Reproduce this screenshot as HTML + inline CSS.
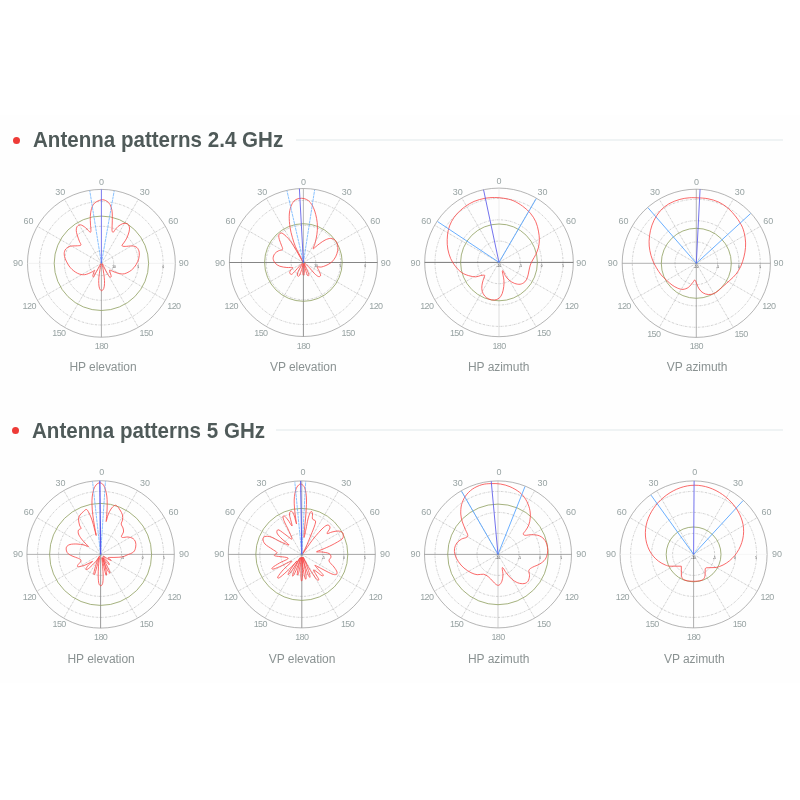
<!DOCTYPE html>
<html lang="en"><head><meta charset="utf-8"><title>Antenna patterns</title>
<style>
html,body{margin:0;padding:0;background:#fff;}
body{width:800px;height:800px;position:relative;overflow:hidden;font-family:"Liberation Sans",sans-serif;}
.sheet{position:absolute;left:0;top:115px;width:800px;height:568px;background:#fefefe;}
h2{position:absolute;margin:0;left:33px;font-size:21.6px;line-height:26px;font-weight:bold;color:#4f5a59;white-space:nowrap;transform-origin:0 50%;transform:scaleX(0.952);letter-spacing:0;}
.dot{position:absolute;width:7px;height:7px;border-radius:50%;background:#ee3b37;}
.rule{position:absolute;height:2.2px;background:#eff3f4;}
.cap{position:absolute;font-size:12px;line-height:14px;color:#8a9292;white-space:nowrap;letter-spacing:-0.05px;}
svg{position:absolute;left:0;top:0;}
.rad{stroke:#8c8c8c;stroke-width:0.4;stroke-dasharray:2 0.7 0.5 0.7;fill:none}
.ring{stroke:#8c8c8c;stroke-width:0.4;stroke-dasharray:2 0.9 0.6 0.9;fill:none}
.outer{stroke:#8c8c8c;stroke-width:0.65;fill:none}
.green{stroke:#8e9e5e;stroke-width:0.8;fill:none}
.red{stroke:#f94444;stroke-width:0.8;fill:none;stroke-linejoin:round}
.bd{stroke:#4aa0ff;stroke-width:0.65;stroke-dasharray:3 0.6;fill:none}
.bs{stroke:#4fa0ff;stroke-width:0.85;fill:none}
.db{stroke:#5858ea;fill:none}
.al{font-family:"Liberation Sans",sans-serif;font-size:9px;fill:#98a3a3;text-anchor:middle}
.a3{letter-spacing:-0.6px}
.tk{font-family:"Liberation Sans",sans-serif;font-size:3px;fill:#333;text-anchor:middle}
</style></head><body>
<div class="sheet"></div>

<div class="dot" style="left:13px;top:136.8px"></div>
<h2 style="top:127.0px">Antenna patterns 2.4 GHz</h2>
<div class="rule" style="left:296px;top:139.3px;width:487px"></div>
<div class="dot" style="left:11.5px;top:427.2px"></div>
<h2 style="top:418.0px;left:32px">Antenna patterns 5 GHz</h2>
<div class="rule" style="left:276px;top:429.2px;width:507px"></div>
<svg width="800" height="800" viewBox="0 0 800 800">
<g>
<line x1="101.40" y1="263.30" x2="138.35" y2="199.30" class="rad"/>
<line x1="101.40" y1="263.30" x2="165.40" y2="226.35" class="rad"/>
<line x1="101.40" y1="263.30" x2="165.40" y2="300.25" class="rad"/>
<line x1="101.40" y1="263.30" x2="138.35" y2="327.30" class="rad"/>
<line x1="101.40" y1="263.30" x2="64.45" y2="327.30" class="rad"/>
<line x1="101.40" y1="263.30" x2="37.40" y2="300.25" class="rad"/>
<line x1="101.40" y1="263.30" x2="37.40" y2="226.35" class="rad"/>
<line x1="101.40" y1="263.30" x2="64.45" y2="199.30" class="rad"/>
<circle cx="101.40" cy="263.30" r="12.30" class="ring"/>
<circle cx="101.40" cy="263.30" r="37.00" class="ring"/>
<circle cx="101.40" cy="263.30" r="61.70" class="ring"/>
<circle cx="101.40" cy="263.30" r="73.90" class="outer"/>
<line x1="27.50" y1="263.30" x2="175.30" y2="263.30" stroke="#e8e8e8" stroke-width="0.6"/>
<line x1="101.40" y1="263.30" x2="101.40" y2="337.20" stroke="#999" stroke-width="0.8"/>
<circle cx="101.40" cy="263.30" r="47.20" class="green"/>
<path d="M101.41 199.84C103.36 199.51 104.97 200.16 106.41 200.94C107.84 201.72 109.09 203.02 110.00 204.53C110.91 206.04 111.48 208.05 111.88 210.00C112.27 211.95 112.29 213.91 112.34 216.25C112.40 218.59 112.24 221.72 112.19 224.06C112.14 226.41 111.88 228.93 112.03 230.31C112.19 231.69 112.58 232.47 113.12 232.34C113.67 232.21 114.48 230.52 115.31 229.53C116.15 228.54 116.88 227.40 118.12 226.41C119.38 225.42 121.30 224.04 122.81 223.59C124.32 223.15 126.09 223.20 127.19 223.75C128.28 224.30 129.06 225.52 129.38 226.88C129.69 228.23 129.51 230.00 129.06 231.88C128.62 233.75 127.50 236.43 126.72 238.12C125.94 239.82 125.16 240.78 124.38 242.03C123.59 243.28 121.90 244.90 122.03 245.62C122.16 246.35 123.46 246.35 125.16 246.41C126.85 246.46 130.23 245.76 132.19 245.94C134.14 246.12 135.70 246.46 136.88 247.50C138.05 248.54 138.91 250.36 139.22 252.19C139.53 254.01 139.27 256.35 138.75 258.44C138.23 260.52 137.32 262.73 136.09 264.69C134.87 266.64 133.36 268.65 131.41 270.16C129.45 271.67 126.59 273.23 124.38 273.75C122.16 274.27 120.08 273.70 118.12 273.28C116.17 272.86 114.09 271.77 112.66 271.25C111.22 270.73 109.87 269.69 109.53 270.16C109.19 270.62 110.34 272.99 110.62 274.06C110.91 275.13 111.41 276.09 111.25 276.56C111.09 277.03 110.36 277.42 109.69 276.88C109.01 276.33 108.07 274.79 107.19 273.28C106.30 271.77 105.21 269.43 104.38 267.81C103.54 266.20 102.40 263.33 102.19 263.59C101.98 263.85 102.79 267.11 103.12 269.38C103.46 271.64 103.98 274.84 104.22 277.19C104.45 279.53 104.61 281.56 104.53 283.44C104.45 285.31 104.24 287.21 103.75 288.44C103.26 289.66 102.27 290.78 101.56 290.78C100.86 290.78 100.00 289.66 99.53 288.44C99.06 287.21 98.85 285.31 98.75 283.44C98.65 281.56 98.70 279.53 98.91 277.19C99.11 274.84 99.66 271.64 100.00 269.38C100.34 267.11 101.25 263.72 100.94 263.59C100.62 263.46 99.11 266.85 98.12 268.59C97.14 270.34 95.73 272.68 95.00 274.06C94.27 275.44 94.11 276.56 93.75 276.88C93.39 277.19 92.81 276.67 92.81 275.94C92.81 275.21 93.44 273.44 93.75 272.50C94.06 271.56 95.05 270.36 94.69 270.31C94.32 270.26 93.26 271.46 91.56 272.19C89.87 272.92 86.88 274.51 84.53 274.69C82.19 274.87 79.84 274.43 77.50 273.28C75.16 272.14 72.42 270.03 70.47 267.81C68.52 265.60 66.82 262.34 65.78 260.00C64.74 257.66 64.22 255.57 64.22 253.75C64.22 251.93 64.74 250.31 65.78 249.06C66.82 247.81 68.52 246.80 70.47 246.25C72.42 245.70 75.76 245.99 77.50 245.78C79.24 245.57 80.62 245.76 80.94 245.00C81.25 244.24 80.00 242.92 79.38 241.25C78.75 239.58 77.71 236.82 77.19 235.00C76.67 233.18 76.25 231.74 76.25 230.31C76.25 228.88 76.46 227.32 77.19 226.41C77.92 225.49 79.27 224.66 80.62 224.84C81.98 225.03 84.01 226.54 85.31 227.50C86.61 228.46 87.60 229.82 88.44 230.62C89.27 231.43 89.90 232.40 90.31 232.34C90.73 232.29 90.91 231.69 90.94 230.31C90.96 228.93 90.57 226.41 90.47 224.06C90.36 221.72 90.13 218.85 90.31 216.25C90.49 213.65 90.83 210.65 91.56 208.44C92.29 206.22 93.05 204.40 94.69 202.97C96.33 201.54 99.45 200.18 101.41 199.84Z" class="red"/>
<line x1="101.40" y1="263.30" x2="89.79" y2="190.82" class="bd"/>
<line x1="101.40" y1="263.30" x2="114.15" y2="191.02" class="bd"/>
<line x1="101.40" y1="263.30" x2="101.40" y2="189.40" class="db" stroke-width="0.8"/>
<text x="113.90" y="267.90" class="tk">10</text>
<text x="138.40" y="267.90" class="tk">5</text>
<text x="163.40" y="267.90" class="tk">0</text>
<text x="101.50" y="184.50" class="al">0</text>
<text x="144.80" y="195.00" class="al">30</text>
<text x="173.30" y="223.90" class="al">60</text>
<text x="183.70" y="266.00" class="al">90</text>
<text x="173.90" y="308.80" class="al a3">120</text>
<text x="146.10" y="336.40" class="al a3">150</text>
<text x="101.40" y="348.80" class="al a3">180</text>
<text x="58.90" y="336.40" class="al a3">150</text>
<text x="29.20" y="308.80" class="al a3">120</text>
<text x="17.90" y="266.00" class="al">90</text>
<text x="28.60" y="223.90" class="al">60</text>
<text x="60.20" y="195.00" class="al">30</text>
</g>
<g>
<line x1="303.40" y1="262.50" x2="340.40" y2="198.41" class="rad"/>
<line x1="303.40" y1="262.50" x2="367.49" y2="225.50" class="rad"/>
<line x1="303.40" y1="262.50" x2="367.49" y2="299.50" class="rad"/>
<line x1="303.40" y1="262.50" x2="340.40" y2="326.59" class="rad"/>
<line x1="303.40" y1="262.50" x2="266.40" y2="326.59" class="rad"/>
<line x1="303.40" y1="262.50" x2="239.31" y2="299.50" class="rad"/>
<line x1="303.40" y1="262.50" x2="239.31" y2="225.50" class="rad"/>
<line x1="303.40" y1="262.50" x2="266.40" y2="198.41" class="rad"/>
<circle cx="303.40" cy="262.50" r="12.40" class="ring"/>
<circle cx="303.40" cy="262.50" r="37.20" class="ring"/>
<circle cx="303.40" cy="262.50" r="62.00" class="ring"/>
<circle cx="303.40" cy="262.50" r="74.00" class="outer"/>
<line x1="229.40" y1="262.50" x2="377.40" y2="262.50" stroke="#666" stroke-width="0.8"/>
<line x1="303.40" y1="188.50" x2="303.40" y2="262.50" stroke="#999" stroke-width="0.7"/>
<line x1="303.40" y1="262.50" x2="303.40" y2="336.50" stroke="#777" stroke-width="0.8"/>
<circle cx="303.40" cy="262.50" r="38.80" class="green"/>
<path d="M301.72 198.28C303.28 198.33 304.97 198.67 306.41 199.38C307.84 200.08 309.14 201.12 310.31 202.50C311.48 203.88 312.53 205.62 313.44 207.66C314.35 209.69 315.16 212.21 315.78 214.69C316.41 217.16 316.93 219.90 317.19 222.50C317.45 225.10 317.50 227.71 317.34 230.31C317.19 232.92 316.69 235.78 316.25 238.12C315.81 240.47 315.21 242.60 314.69 244.38C314.17 246.15 312.94 248.36 313.12 248.75C313.31 249.14 314.69 247.58 315.78 246.72C316.88 245.86 318.12 244.71 319.69 243.59C321.25 242.47 323.33 240.86 325.16 240.00C326.98 239.14 328.93 238.36 330.62 238.44C332.32 238.52 334.14 239.35 335.31 240.47C336.48 241.59 337.27 243.46 337.66 245.16C338.05 246.85 337.99 248.67 337.66 250.62C337.32 252.58 336.67 254.92 335.62 256.88C334.58 258.83 333.02 260.91 331.41 262.34C329.79 263.78 327.63 264.69 325.94 265.47C324.24 266.25 322.68 266.77 321.25 267.03C319.82 267.29 317.73 266.43 317.34 267.03C316.95 267.63 318.36 269.24 318.91 270.62C319.45 272.01 320.70 274.32 320.62 275.31C320.55 276.30 319.51 276.90 318.44 276.56C317.37 276.22 315.70 274.74 314.22 273.28C312.73 271.82 311.17 269.51 309.53 267.81C307.89 266.12 304.90 262.99 304.38 263.12C303.85 263.26 305.65 266.67 306.41 268.59C307.16 270.52 308.72 273.54 308.91 274.69C309.09 275.83 308.05 276.22 307.50 275.47C306.95 274.71 306.22 272.08 305.62 270.16C305.03 268.23 304.11 264.04 303.91 263.91C303.70 263.78 304.35 267.63 304.38 269.38C304.40 271.12 304.30 273.54 304.06 274.38C303.83 275.21 303.18 275.21 302.97 274.38C302.76 273.54 302.79 271.12 302.81 269.38C302.84 267.63 303.31 263.91 303.12 263.91C302.94 263.91 302.34 267.42 301.72 269.38C301.09 271.33 300.08 274.58 299.38 275.62C298.67 276.67 297.71 276.28 297.50 275.62C297.29 274.97 297.55 273.28 298.12 271.72C298.70 270.16 300.21 267.68 300.94 266.25C301.67 264.82 302.76 263.12 302.50 263.12C302.24 263.12 300.55 265.00 299.38 266.25C298.20 267.50 296.77 269.27 295.47 270.62C294.17 271.98 292.53 274.06 291.56 274.38C290.60 274.69 289.74 273.33 289.69 272.50C289.64 271.67 290.78 270.21 291.25 269.38C291.72 268.54 293.23 267.81 292.50 267.50C291.77 267.19 288.98 267.71 286.88 267.50C284.77 267.29 281.80 266.98 279.84 266.25C277.89 265.52 276.28 264.43 275.16 263.12C274.04 261.82 273.20 260.00 273.12 258.44C273.05 256.88 273.83 255.00 274.69 253.75C275.55 252.50 276.98 251.67 278.28 250.94C279.58 250.21 281.98 250.34 282.50 249.38C283.02 248.41 281.93 246.77 281.41 245.16C280.89 243.54 279.82 241.25 279.38 239.69C278.93 238.12 278.67 236.82 278.75 235.78C278.83 234.74 279.27 233.85 279.84 233.44C280.42 233.02 281.15 232.81 282.19 233.28C283.23 233.75 284.66 234.87 286.09 236.25C287.53 237.63 289.22 239.43 290.78 241.56C292.34 243.70 293.91 246.46 295.47 249.06C297.03 251.67 298.93 255.05 300.16 257.19C301.38 259.32 302.81 262.06 302.81 261.88C302.81 261.69 301.38 258.62 300.16 256.09C298.93 253.57 296.77 249.84 295.47 246.72C294.17 243.59 293.26 240.60 292.34 237.34C291.43 234.09 290.52 230.70 290.00 227.19C289.48 223.67 289.17 219.38 289.22 216.25C289.27 213.12 289.66 210.78 290.31 208.44C290.96 206.09 292.01 203.75 293.12 202.19C294.24 200.62 295.60 199.71 297.03 199.06C298.46 198.41 300.16 198.23 301.72 198.28Z" class="red"/>
<line x1="303.40" y1="262.50" x2="286.99" y2="190.86" class="bd"/>
<line x1="303.40" y1="262.50" x2="314.64" y2="189.87" class="bd"/>
<line x1="303.40" y1="262.50" x2="299.40" y2="188.61" class="db" stroke-width="0.85"/>
<text x="315.90" y="267.10" class="tk">10</text>
<text x="340.40" y="267.10" class="tk">5</text>
<text x="365.40" y="267.10" class="tk">0</text>
<text x="303.50" y="184.50" class="al">0</text>
<text x="346.80" y="195.00" class="al">30</text>
<text x="375.30" y="223.90" class="al">60</text>
<text x="385.70" y="266.00" class="al">90</text>
<text x="375.90" y="308.80" class="al a3">120</text>
<text x="348.10" y="336.40" class="al a3">150</text>
<text x="303.40" y="348.80" class="al a3">180</text>
<text x="260.90" y="336.40" class="al a3">150</text>
<text x="231.20" y="308.80" class="al a3">120</text>
<text x="219.90" y="266.00" class="al">90</text>
<text x="230.60" y="223.90" class="al">60</text>
<text x="262.20" y="195.00" class="al">30</text>
</g>
<g>
<line x1="499.00" y1="262.40" x2="536.15" y2="198.05" class="rad"/>
<line x1="499.00" y1="262.40" x2="563.35" y2="225.25" class="rad"/>
<line x1="499.00" y1="262.40" x2="563.35" y2="299.55" class="rad"/>
<line x1="499.00" y1="262.40" x2="536.15" y2="326.75" class="rad"/>
<line x1="499.00" y1="262.40" x2="461.85" y2="326.75" class="rad"/>
<line x1="499.00" y1="262.40" x2="434.65" y2="299.55" class="rad"/>
<line x1="499.00" y1="262.40" x2="434.65" y2="225.25" class="rad"/>
<line x1="499.00" y1="262.40" x2="461.85" y2="198.05" class="rad"/>
<circle cx="499.00" cy="262.40" r="21.30" class="ring"/>
<circle cx="499.00" cy="262.40" r="42.60" class="ring"/>
<circle cx="499.00" cy="262.40" r="64.00" class="ring"/>
<circle cx="499.00" cy="262.40" r="74.30" class="outer"/>
<line x1="424.70" y1="262.40" x2="573.30" y2="262.40" stroke="#606060" stroke-width="0.85"/>
<line x1="499.00" y1="188.10" x2="499.00" y2="262.40" stroke="#ddd" stroke-width="0.5"/>
<line x1="499.00" y1="262.40" x2="499.00" y2="336.70" stroke="#c4c4c4" stroke-width="0.55"/>
<circle cx="499.00" cy="262.40" r="38.40" class="green"/>
<path d="M494.38 197.50C497.50 197.50 500.62 197.76 503.75 198.28C506.88 198.80 510.00 199.32 513.12 200.62C516.25 201.93 519.64 204.01 522.50 206.09C525.36 208.18 528.10 210.52 530.31 213.12C532.53 215.73 534.43 218.72 535.78 221.72C537.14 224.71 537.84 228.10 538.44 231.09C539.04 234.09 539.38 236.95 539.38 239.69C539.38 242.42 539.04 245.03 538.44 247.50C537.84 249.97 536.74 252.45 535.78 254.53C534.82 256.61 533.57 258.26 532.66 260.00C531.74 261.74 530.94 263.18 530.31 265.00C529.69 266.82 529.38 268.91 528.91 270.94C528.44 272.97 528.18 275.36 527.50 277.19C526.82 279.01 526.07 280.70 524.84 281.88C523.62 283.05 521.85 283.96 520.16 284.22C518.46 284.48 516.51 284.09 514.69 283.44C512.86 282.79 510.78 281.61 509.22 280.31C507.66 279.01 506.30 277.14 505.31 275.62C504.32 274.11 503.78 271.98 503.28 271.25C502.79 270.52 502.37 270.52 502.34 271.25C502.32 271.98 502.86 274.11 503.12 275.62C503.39 277.14 503.80 278.49 503.91 280.31C504.01 282.14 504.04 284.35 503.75 286.56C503.46 288.78 502.97 291.64 502.19 293.59C501.41 295.55 500.36 297.21 499.06 298.28C497.76 299.35 496.07 299.87 494.38 300.00C492.68 300.13 490.52 299.74 488.91 299.06C487.29 298.39 485.81 297.24 484.69 295.94C483.57 294.64 482.66 292.94 482.19 291.25C481.72 289.56 481.72 287.60 481.88 285.78C482.03 283.96 482.66 281.95 483.12 280.31C483.59 278.67 484.58 276.80 484.69 275.94C484.79 275.08 484.48 275.21 483.75 275.16C483.02 275.10 481.67 275.34 480.31 275.62C478.96 275.91 477.58 276.88 475.62 276.88C473.67 276.88 470.94 276.35 468.59 275.62C466.25 274.90 463.78 274.06 461.56 272.50C459.35 270.94 457.14 268.59 455.31 266.25C453.49 263.91 451.88 261.30 450.62 258.44C449.38 255.57 448.39 252.19 447.81 249.06C447.24 245.94 447.11 242.81 447.19 239.69C447.27 236.56 447.58 233.31 448.28 230.31C448.98 227.32 449.97 224.45 451.41 221.72C452.84 218.98 454.66 216.38 456.88 213.91C459.09 211.43 461.82 208.96 464.69 206.88C467.55 204.79 470.68 202.84 474.06 201.41C477.45 199.97 481.61 198.93 485.00 198.28C488.39 197.63 491.25 197.50 494.38 197.50Z" class="red"/>
<line x1="499.00" y1="262.40" x2="437.53" y2="221.56" class="bs"/>
<line x1="499.00" y1="262.40" x2="536.23" y2="198.68" class="bs"/>
<line x1="499.00" y1="262.40" x2="483.55" y2="189.72" class="db" stroke-width="0.85"/>
<text x="499.00" y="267.00" class="tk">-10</text>
<text x="520.50" y="267.00" class="tk">-5</text>
<text x="541.60" y="267.00" class="tk">0</text>
<text x="563.00" y="267.00" class="tk">5</text>
<text x="499.10" y="184.40" class="al">0</text>
<text x="542.40" y="194.90" class="al">30</text>
<text x="570.90" y="223.80" class="al">60</text>
<text x="581.30" y="265.90" class="al">90</text>
<text x="571.50" y="308.70" class="al a3">120</text>
<text x="543.70" y="336.30" class="al a3">150</text>
<text x="499.00" y="348.70" class="al a3">180</text>
<text x="456.50" y="336.30" class="al a3">150</text>
<text x="426.80" y="308.70" class="al a3">120</text>
<text x="415.50" y="265.90" class="al">90</text>
<text x="426.20" y="223.80" class="al">60</text>
<text x="457.80" y="194.90" class="al">30</text>
</g>
<g>
<line x1="696.30" y1="263.30" x2="733.35" y2="199.13" class="rad"/>
<line x1="696.30" y1="263.30" x2="760.47" y2="226.25" class="rad"/>
<line x1="696.30" y1="263.30" x2="760.47" y2="300.35" class="rad"/>
<line x1="696.30" y1="263.30" x2="733.35" y2="327.47" class="rad"/>
<line x1="696.30" y1="263.30" x2="659.25" y2="327.47" class="rad"/>
<line x1="696.30" y1="263.30" x2="632.13" y2="300.35" class="rad"/>
<line x1="696.30" y1="263.30" x2="632.13" y2="226.25" class="rad"/>
<line x1="696.30" y1="263.30" x2="659.25" y2="199.13" class="rad"/>
<circle cx="696.30" cy="263.30" r="21.30" class="ring"/>
<circle cx="696.30" cy="263.30" r="42.60" class="ring"/>
<circle cx="696.30" cy="263.30" r="64.00" class="ring"/>
<circle cx="696.30" cy="263.30" r="74.10" class="outer"/>
<line x1="622.20" y1="263.30" x2="770.40" y2="263.30" stroke="#888" stroke-width="0.65"/>
<line x1="696.30" y1="189.20" x2="696.30" y2="263.30" stroke="#8c8c8c" stroke-width="0.65"/>
<line x1="696.30" y1="263.30" x2="696.30" y2="337.40" stroke="#888" stroke-width="0.65"/>
<circle cx="696.30" cy="263.30" r="35.00" class="green"/>
<path d="M697.06 197.81C700.19 197.97 704.35 198.02 708.00 198.75C711.65 199.48 715.55 200.57 718.94 202.19C722.32 203.80 725.45 205.96 728.31 208.44C731.18 210.91 733.78 213.91 736.12 217.03C738.47 220.16 740.86 223.67 742.38 227.19C743.89 230.70 744.67 234.74 745.19 238.12C745.71 241.51 745.71 244.38 745.50 247.50C745.29 250.62 744.72 253.75 743.94 256.88C743.16 260.00 742.11 263.39 740.81 266.25C739.51 269.11 737.95 271.72 736.12 274.06C734.30 276.41 732.09 278.23 729.88 280.31C727.66 282.40 725.06 284.61 722.84 286.56C720.63 288.52 718.55 290.73 716.59 292.03C714.64 293.33 712.95 294.04 711.12 294.38C709.30 294.71 707.35 294.58 705.66 294.06C703.96 293.54 702.27 292.50 700.97 291.25C699.67 290.00 698.65 288.07 697.84 286.56C697.04 285.05 696.65 283.28 696.12 282.19C695.60 281.09 695.24 280.00 694.72 280.00C694.20 280.00 694.04 280.96 693.00 282.19C691.96 283.41 690.14 286.15 688.47 287.34C686.80 288.54 684.82 289.24 683.00 289.38C681.18 289.51 679.35 288.85 677.53 288.12C675.71 287.40 673.89 286.30 672.06 285.00C670.24 283.70 668.42 282.01 666.59 280.31C664.77 278.62 662.82 276.93 661.12 274.84C659.43 272.76 657.87 270.29 656.44 267.81C655.01 265.34 653.62 262.86 652.53 260.00C651.44 257.14 650.45 253.75 649.88 250.62C649.30 247.50 648.99 244.64 649.09 241.25C649.20 237.86 649.67 233.83 650.50 230.31C651.33 226.80 652.45 223.41 654.09 220.16C655.73 216.90 657.87 213.52 660.34 210.78C662.82 208.05 665.68 205.65 668.94 203.75C672.19 201.85 676.49 200.36 679.88 199.38C683.26 198.39 686.39 198.07 689.25 197.81C692.11 197.55 693.94 197.66 697.06 197.81Z" class="red"/>
<line x1="696.30" y1="263.30" x2="648.01" y2="207.75" class="bs"/>
<line x1="696.30" y1="263.30" x2="750.56" y2="213.58" class="bs"/>
<line x1="696.30" y1="263.30" x2="700.05" y2="189.29" class="db" stroke-width="0.85"/>
<text x="696.30" y="267.90" class="tk">-10</text>
<text x="717.80" y="267.90" class="tk">-5</text>
<text x="738.90" y="267.90" class="tk">0</text>
<text x="760.30" y="267.90" class="tk">5</text>
<text x="696.40" y="184.60" class="al">0</text>
<text x="739.70" y="195.10" class="al">30</text>
<text x="768.20" y="224.00" class="al">60</text>
<text x="778.60" y="266.10" class="al">90</text>
<text x="768.80" y="308.90" class="al a3">120</text>
<text x="741.00" y="336.50" class="al a3">150</text>
<text x="696.30" y="348.90" class="al a3">180</text>
<text x="653.80" y="336.50" class="al a3">150</text>
<text x="624.10" y="308.90" class="al a3">120</text>
<text x="612.80" y="266.10" class="al">90</text>
<text x="623.50" y="224.00" class="al">60</text>
<text x="655.10" y="195.10" class="al">30</text>
</g>
<g>
<line x1="100.60" y1="554.40" x2="137.45" y2="490.57" class="rad"/>
<line x1="100.60" y1="554.40" x2="164.43" y2="517.55" class="rad"/>
<line x1="100.60" y1="554.40" x2="164.43" y2="591.25" class="rad"/>
<line x1="100.60" y1="554.40" x2="137.45" y2="618.23" class="rad"/>
<line x1="100.60" y1="554.40" x2="63.75" y2="618.23" class="rad"/>
<line x1="100.60" y1="554.40" x2="36.77" y2="591.25" class="rad"/>
<line x1="100.60" y1="554.40" x2="36.77" y2="517.55" class="rad"/>
<line x1="100.60" y1="554.40" x2="63.75" y2="490.57" class="rad"/>
<circle cx="100.60" cy="554.40" r="21.00" class="ring"/>
<circle cx="100.60" cy="554.40" r="42.00" class="ring"/>
<circle cx="100.60" cy="554.40" r="63.00" class="ring"/>
<circle cx="100.60" cy="554.40" r="73.70" class="outer"/>
<line x1="26.90" y1="554.40" x2="174.30" y2="554.40" stroke="#8a8a8a" stroke-width="0.65"/>
<line x1="100.60" y1="554.40" x2="100.60" y2="628.10" stroke="#808080" stroke-width="0.8"/>
<circle cx="100.60" cy="554.40" r="51.00" class="green"/>
<path d="M99.80 482.80C101.05 482.80 102.55 483.80 103.50 485.00C104.45 486.20 104.95 488.17 105.50 490.00C106.05 491.83 106.52 493.83 106.80 496.00C107.08 498.17 107.17 500.50 107.20 503.00C107.23 505.50 107.12 508.50 107.00 511.00C106.88 513.50 106.63 516.25 106.50 518.00C106.37 519.75 105.95 522.00 106.20 521.50C106.45 521.00 107.20 517.08 108.00 515.00C108.80 512.92 109.92 510.58 111.00 509.00C112.08 507.42 113.50 506.00 114.50 505.50C115.50 505.00 116.08 505.25 117.00 506.00C117.92 506.75 119.08 508.50 120.00 510.00C120.92 511.50 122.08 513.33 122.50 515.00C122.92 516.67 122.72 518.50 122.50 520.00C122.28 521.50 121.12 522.67 121.20 524.00C121.28 525.33 122.62 526.67 123.00 528.00C123.38 529.33 123.75 530.67 123.50 532.00C123.25 533.33 121.67 535.08 121.50 536.00C121.33 536.92 121.42 537.33 122.50 537.50C123.58 537.67 126.25 536.83 128.00 537.00C129.75 537.17 131.75 537.67 133.00 538.50C134.25 539.33 135.05 540.58 135.50 542.00C135.95 543.42 136.03 545.33 135.70 547.00C135.37 548.67 134.95 550.67 133.50 552.00C132.05 553.33 128.83 554.19 127.00 555.00C125.17 555.81 124.50 556.48 122.50 556.88C120.50 557.28 117.38 557.28 115.00 557.40C112.63 557.53 109.00 557.25 108.25 557.63C107.50 558.00 110.06 559.19 110.50 559.65C110.94 560.11 111.38 560.55 110.88 560.40C110.38 560.25 108.81 559.46 107.50 558.75C106.19 558.04 103.00 555.69 103.00 556.13C103.00 556.56 106.44 560.06 107.50 561.38C108.56 562.69 109.19 563.50 109.38 564.00C109.56 564.50 109.31 564.94 108.63 564.38C107.94 563.81 106.19 561.75 105.25 560.63C104.31 559.50 102.75 556.81 103.00 557.63C103.25 558.44 105.63 563.13 106.75 565.50C107.88 567.88 109.35 570.69 109.75 571.88C110.15 573.06 109.65 573.13 109.15 572.63C108.65 572.13 107.59 570.56 106.75 568.88C105.91 567.19 104.81 564.31 104.13 562.50C103.44 560.69 102.44 557.25 102.63 558.00C102.81 558.75 104.59 564.31 105.25 567.00C105.91 569.69 106.48 572.81 106.60 574.13C106.73 575.44 106.33 575.56 106.00 574.88C105.68 574.19 105.15 572.06 104.65 570.00C104.15 567.94 103.46 564.56 103.00 562.50C102.54 560.44 101.94 557.00 101.88 557.63C101.81 558.25 102.41 563.19 102.63 566.25C102.84 569.31 103.15 573.13 103.15 576.00C103.15 578.88 103.03 581.88 102.63 583.50C102.23 585.13 101.38 585.75 100.75 585.75C100.13 585.75 99.30 585.13 98.88 583.50C98.45 581.88 98.26 578.88 98.20 576.00C98.14 573.13 98.30 569.31 98.50 566.25C98.70 563.19 99.59 557.88 99.40 557.63C99.21 557.38 98.09 562.19 97.38 564.75C96.66 567.31 95.66 571.35 95.13 573.00C94.59 574.65 94.36 574.65 94.15 574.65C93.94 574.65 93.63 574.40 93.85 573.00C94.08 571.60 94.79 568.63 95.50 566.25C96.21 563.88 97.44 560.44 98.13 558.75C98.81 557.06 100.06 555.63 99.63 556.13C99.19 556.63 97.19 559.81 95.50 561.75C93.81 563.69 91.00 566.44 89.50 567.75C88.00 569.06 87.06 569.50 86.50 569.63C85.94 569.75 85.75 569.31 86.13 568.50C86.50 567.69 87.69 565.94 88.75 564.75C89.81 563.56 93.13 561.31 92.50 561.38C91.88 561.44 87.38 564.23 85.00 565.13C82.63 566.03 79.46 566.78 78.25 566.78C77.04 566.78 77.35 565.94 77.73 565.13C78.10 564.31 80.01 562.81 80.50 561.90C80.99 560.99 81.15 560.30 80.65 559.65C80.15 559.00 78.78 558.55 77.50 558.00C76.23 557.45 74.50 557.02 73.00 556.35C71.50 555.68 69.58 554.89 68.50 554.00C67.42 553.11 66.83 552.17 66.50 551.00C66.17 549.83 65.92 548.08 66.50 547.00C67.08 545.92 68.25 545.00 70.00 544.50C71.75 544.00 74.67 543.92 77.00 544.00C79.33 544.08 82.08 544.58 84.00 545.00C85.92 545.42 88.17 546.67 88.50 546.50C88.83 546.33 87.17 545.25 86.00 544.00C84.83 542.75 82.75 540.67 81.50 539.00C80.25 537.33 79.00 535.50 78.50 534.00C78.00 532.50 78.08 530.92 78.50 530.00C78.92 529.08 80.83 529.33 81.00 528.50C81.17 527.67 79.92 526.58 79.50 525.00C79.08 523.42 78.42 520.67 78.50 519.00C78.58 517.33 79.17 516.25 80.00 515.00C80.83 513.75 82.42 512.42 83.50 511.50C84.58 510.58 85.58 509.25 86.50 509.50C87.42 509.75 88.08 511.25 89.00 513.00C89.92 514.75 91.08 517.33 92.00 520.00C92.92 522.67 93.80 526.42 94.50 529.00C95.20 531.58 96.20 536.00 96.20 535.50C96.20 535.00 95.07 529.42 94.50 526.00C93.93 522.58 93.22 518.50 92.80 515.00C92.38 511.50 92.10 508.00 92.00 505.00C91.90 502.00 91.95 499.50 92.20 497.00C92.45 494.50 92.87 492.00 93.50 490.00C94.13 488.00 94.95 486.20 96.00 485.00C97.05 483.80 98.55 482.80 99.80 482.80Z" class="red"/>
<line x1="100.60" y1="554.40" x2="92.57" y2="481.64" class="bd"/>
<line x1="100.60" y1="554.40" x2="105.45" y2="481.36" class="bd"/>
<line x1="100.60" y1="554.40" x2="99.83" y2="480.70" class="db" stroke-width="1.3"/>
<text x="122.60" y="559.00" class="tk">-5</text>
<text x="142.60" y="559.00" class="tk">0</text>
<text x="163.90" y="559.00" class="tk">5</text>
<text x="101.70" y="475.40" class="al">0</text>
<text x="145.00" y="485.90" class="al">30</text>
<text x="173.50" y="514.80" class="al">60</text>
<text x="183.90" y="556.90" class="al">90</text>
<text x="174.10" y="599.70" class="al a3">120</text>
<text x="146.30" y="627.30" class="al a3">150</text>
<text x="100.60" y="639.70" class="al a3">180</text>
<text x="59.10" y="627.30" class="al a3">150</text>
<text x="29.40" y="599.70" class="al a3">120</text>
<text x="18.10" y="556.90" class="al">90</text>
<text x="28.80" y="514.80" class="al">60</text>
<text x="60.40" y="485.90" class="al">30</text>
</g>
<g>
<line x1="301.80" y1="554.40" x2="338.55" y2="490.75" class="rad"/>
<line x1="301.80" y1="554.40" x2="365.45" y2="517.65" class="rad"/>
<line x1="301.80" y1="554.40" x2="365.45" y2="591.15" class="rad"/>
<line x1="301.80" y1="554.40" x2="338.55" y2="618.05" class="rad"/>
<line x1="301.80" y1="554.40" x2="265.05" y2="618.05" class="rad"/>
<line x1="301.80" y1="554.40" x2="238.15" y2="591.15" class="rad"/>
<line x1="301.80" y1="554.40" x2="238.15" y2="517.65" class="rad"/>
<line x1="301.80" y1="554.40" x2="265.05" y2="490.75" class="rad"/>
<circle cx="301.80" cy="554.40" r="21.00" class="ring"/>
<circle cx="301.80" cy="554.40" r="42.00" class="ring"/>
<circle cx="301.80" cy="554.40" r="63.00" class="ring"/>
<circle cx="301.80" cy="554.40" r="73.50" class="outer"/>
<line x1="228.30" y1="554.40" x2="375.30" y2="554.40" stroke="#808080" stroke-width="0.7"/>
<line x1="301.80" y1="480.90" x2="301.80" y2="554.40" stroke="#999" stroke-width="0.7"/>
<line x1="301.80" y1="554.40" x2="301.80" y2="627.90" stroke="#808080" stroke-width="0.8"/>
<circle cx="301.80" cy="554.40" r="46.00" class="green"/>
<path d="M300.50 484.00C301.67 483.92 303.12 485.17 304.00 486.50C304.88 487.83 305.38 489.75 305.80 492.00C306.22 494.25 306.43 497.17 306.50 500.00C306.57 502.83 306.37 505.83 306.20 509.00C306.03 512.17 305.78 515.67 305.50 519.00C305.22 522.33 304.75 525.92 304.50 529.00C304.25 532.08 303.75 537.50 304.00 537.50C304.25 537.50 305.33 532.08 306.00 529.00C306.67 525.92 307.33 521.67 308.00 519.00C308.67 516.33 309.42 514.25 310.00 513.00C310.58 511.75 311.08 511.33 311.50 511.50C311.92 511.67 312.33 512.75 312.50 514.00C312.67 515.25 312.00 517.83 312.50 519.00C313.00 520.17 315.17 519.83 315.50 521.00C315.83 522.17 315.25 523.67 314.50 526.00C313.75 528.33 312.42 531.50 311.00 535.00C309.58 538.50 307.37 543.92 306.00 547.00C304.63 550.08 302.80 553.17 302.80 553.50C302.80 553.83 304.13 551.58 306.00 549.00C307.87 546.42 311.17 541.50 314.00 538.00C316.83 534.50 320.67 530.17 323.00 528.00C325.33 525.83 326.83 525.00 328.00 525.00C329.17 525.00 330.17 526.58 330.00 528.00C329.83 529.42 326.67 532.83 327.00 533.50C327.33 534.17 330.17 532.42 332.00 532.00C333.83 531.58 336.25 530.92 338.00 531.00C339.75 531.08 341.63 531.83 342.50 532.50C343.37 533.17 343.28 533.92 343.20 535.00C343.12 536.08 343.87 537.33 342.00 539.00C340.13 540.67 335.33 543.25 332.00 545.00C328.67 546.75 324.58 548.37 322.00 549.50C319.42 550.63 316.50 551.38 316.50 551.80C316.50 552.22 319.92 551.72 322.00 552.00C324.08 552.28 327.50 552.67 329.00 553.50C330.50 554.33 331.00 555.75 331.00 557.00C331.00 558.25 328.50 559.33 329.00 561.00C329.50 562.67 332.67 565.17 334.00 567.00C335.33 568.83 336.67 570.75 337.00 572.00C337.33 573.25 336.83 574.17 336.00 574.50C335.17 574.83 334.00 574.75 332.00 574.00C330.00 573.25 326.58 571.33 324.00 570.00C321.42 568.67 318.00 566.75 316.50 566.00C315.00 565.25 314.67 564.87 315.00 565.50C315.33 566.13 317.17 568.23 318.50 569.75C319.83 571.27 322.28 573.60 323.00 574.63C323.73 575.65 323.23 575.84 322.85 575.90C322.48 575.96 321.73 575.65 320.75 575.00C319.78 574.35 318.21 572.84 317.00 572.00C315.79 571.16 313.60 569.48 313.48 569.98C313.35 570.48 315.39 573.48 316.25 575.00C317.11 576.53 318.38 578.25 318.65 579.13C318.93 580.00 318.43 580.44 317.90 580.25C317.38 580.06 316.40 579.13 315.50 578.00C314.60 576.88 313.50 575.00 312.50 573.50C311.50 572.00 311.08 571.73 309.50 569.00C307.92 566.27 303.68 558.08 303.04 557.13C302.41 556.18 304.67 560.76 305.68 563.31C306.68 565.86 308.35 570.23 309.08 572.42C309.81 574.62 309.92 575.66 310.05 576.48C310.19 577.29 310.04 577.26 309.91 577.31C309.78 577.35 309.68 577.47 309.28 576.75C308.87 576.03 308.30 575.15 307.48 572.99C306.67 570.83 305.22 566.38 304.40 563.77C303.57 561.15 302.58 557.24 302.53 557.31C302.48 557.38 303.52 561.39 304.08 564.18C304.63 566.97 305.51 571.70 305.84 574.07C306.17 576.44 306.08 577.52 306.07 578.37C306.06 579.22 305.91 579.16 305.77 579.18C305.63 579.21 305.51 579.31 305.23 578.50C304.95 577.70 304.53 576.70 304.11 574.35C303.68 572.00 303.04 567.23 302.69 564.40C302.34 561.57 302.07 557.29 302.02 557.39C301.97 557.50 302.33 561.98 302.41 565.02C302.50 568.07 302.58 573.14 302.52 575.67C302.47 578.20 302.21 579.31 302.07 580.20C301.93 581.09 301.80 581.00 301.66 581.00C301.53 581.00 301.39 581.09 301.26 580.20C301.13 579.31 300.88 578.19 300.85 575.66C300.82 573.13 300.98 568.06 301.08 565.02C301.18 561.97 301.52 557.75 301.45 557.38C301.38 557.00 301.06 560.48 300.67 562.76C300.28 565.04 299.55 569.10 299.10 571.06C298.66 573.02 298.26 573.84 298.00 574.51C297.74 575.18 297.64 575.09 297.52 575.06C297.40 575.04 297.28 575.08 297.30 574.37C297.32 573.65 297.29 572.74 297.66 570.76C298.03 568.79 298.98 564.78 299.52 562.53C300.05 560.27 301.01 557.12 300.88 557.26C300.76 557.39 299.70 560.86 298.76 563.34C297.82 565.81 296.16 570.05 295.25 572.11C294.34 574.16 293.73 574.98 293.30 575.65C292.87 576.33 292.78 576.21 292.65 576.16C292.53 576.10 292.38 576.13 292.56 575.35C292.74 574.56 292.90 573.56 293.73 571.47C294.56 569.38 296.52 565.09 297.54 562.83C298.57 560.56 299.96 557.89 299.86 557.90C299.76 557.90 298.30 560.66 296.92 562.85C295.54 565.04 292.94 569.14 291.60 571.04C290.27 572.94 289.48 573.65 288.91 574.25C288.34 574.85 288.27 574.71 288.16 574.63C288.04 574.55 287.89 574.54 288.22 573.79C288.56 573.03 288.93 572.04 290.19 570.09C291.45 568.14 294.76 563.46 295.79 562.09C296.82 560.72 297.84 560.35 296.38 561.88C294.91 563.40 289.81 568.63 287.00 571.25C284.19 573.88 281.03 576.69 279.50 577.63C277.98 578.56 277.23 578.19 277.85 576.88C278.48 575.56 280.91 572.38 283.25 569.75C285.59 567.13 292.50 561.63 291.88 561.13C291.25 560.63 282.66 565.41 279.50 566.75C276.34 568.09 274.05 569.03 272.90 569.15C271.75 569.28 271.50 568.53 272.60 567.50C273.70 566.48 276.91 564.56 279.50 563.00C282.09 561.44 288.79 559.29 288.13 558.13C287.46 556.96 277.69 556.60 275.50 556.00C273.31 555.40 274.75 555.08 275.00 554.50C275.25 553.92 277.50 553.42 277.00 552.50C276.50 551.58 274.00 550.42 272.00 549.00C270.00 547.58 266.50 545.67 265.00 544.00C263.50 542.33 263.00 540.25 263.00 539.00C263.00 537.75 263.67 536.83 265.00 536.50C266.33 536.17 268.50 536.17 271.00 537.00C273.50 537.83 277.00 540.17 280.00 541.50C283.00 542.83 288.67 545.42 289.00 545.00C289.33 544.58 283.92 540.83 282.00 539.00C280.08 537.17 278.33 535.33 277.50 534.00C276.67 532.67 276.75 531.67 277.00 531.00C277.25 530.33 277.50 529.33 279.00 530.00C280.50 530.67 283.83 533.50 286.00 535.00C288.17 536.50 291.67 540.00 292.00 539.00C292.33 538.00 289.25 531.83 288.00 529.00C286.75 526.17 285.33 524.00 284.50 522.00C283.67 520.00 283.00 518.00 283.00 517.00C283.00 516.00 283.67 515.50 284.50 516.00C285.33 516.50 286.75 518.33 288.00 520.00C289.25 521.67 291.50 525.83 292.00 526.00C292.50 526.17 291.42 522.83 291.00 521.00C290.58 519.17 289.67 516.50 289.50 515.00C289.33 513.50 289.58 512.58 290.00 512.00C290.42 511.42 291.33 511.00 292.00 511.50C292.67 512.00 293.25 512.92 294.00 515.00C294.75 517.08 296.25 523.67 296.50 524.00C296.75 524.33 295.83 519.67 295.50 517.00C295.17 514.33 294.72 510.83 294.50 508.00C294.28 505.17 294.12 502.50 294.20 500.00C294.28 497.50 294.53 495.17 295.00 493.00C295.47 490.83 296.08 488.50 297.00 487.00C297.92 485.50 299.33 484.08 300.50 484.00Z" class="red"/>
<line x1="301.80" y1="554.40" x2="294.80" y2="481.74" class="bd"/>
<line x1="301.80" y1="554.40" x2="305.68" y2="481.50" class="bd"/>
<line x1="301.80" y1="554.40" x2="300.65" y2="480.91" class="db" stroke-width="1.0"/>
<text x="323.30" y="559.00" class="tk">-5</text>
<text x="343.80" y="559.00" class="tk">0</text>
<text x="364.80" y="559.00" class="tk">5</text>
<text x="302.90" y="475.40" class="al">0</text>
<text x="346.20" y="485.90" class="al">30</text>
<text x="374.70" y="514.80" class="al">60</text>
<text x="385.10" y="556.90" class="al">90</text>
<text x="375.30" y="599.70" class="al a3">120</text>
<text x="347.50" y="627.30" class="al a3">150</text>
<text x="301.80" y="639.70" class="al a3">180</text>
<text x="260.30" y="627.30" class="al a3">150</text>
<text x="230.60" y="599.70" class="al a3">120</text>
<text x="219.30" y="556.90" class="al">90</text>
<text x="230.00" y="514.80" class="al">60</text>
<text x="261.60" y="485.90" class="al">30</text>
</g>
<g>
<line x1="498.00" y1="554.40" x2="534.75" y2="490.75" class="rad"/>
<line x1="498.00" y1="554.40" x2="561.65" y2="517.65" class="rad"/>
<line x1="498.00" y1="554.40" x2="561.65" y2="591.15" class="rad"/>
<line x1="498.00" y1="554.40" x2="534.75" y2="618.05" class="rad"/>
<line x1="498.00" y1="554.40" x2="461.25" y2="618.05" class="rad"/>
<line x1="498.00" y1="554.40" x2="434.35" y2="591.15" class="rad"/>
<line x1="498.00" y1="554.40" x2="434.35" y2="517.65" class="rad"/>
<line x1="498.00" y1="554.40" x2="461.25" y2="490.75" class="rad"/>
<circle cx="498.00" cy="554.40" r="21.00" class="ring"/>
<circle cx="498.00" cy="554.40" r="42.00" class="ring"/>
<circle cx="498.00" cy="554.40" r="63.00" class="ring"/>
<circle cx="498.00" cy="554.40" r="73.50" class="outer"/>
<line x1="424.50" y1="554.40" x2="571.50" y2="554.40" stroke="#777" stroke-width="0.65"/>
<line x1="498.00" y1="480.90" x2="498.00" y2="554.40" stroke="#bbb" stroke-width="0.6"/>
<line x1="498.00" y1="554.40" x2="498.00" y2="627.90" stroke="#b0b0b0" stroke-width="0.6"/>
<circle cx="498.00" cy="554.40" r="50.30" class="green"/>
<path d="M491.25 483.59C494.38 483.49 497.50 483.54 500.62 484.06C503.75 484.58 506.88 485.36 510.00 486.72C513.12 488.07 516.77 490.10 519.38 492.19C521.98 494.27 523.93 496.48 525.62 499.22C527.32 501.95 528.75 505.60 529.53 508.59C530.31 511.59 530.44 514.45 530.31 517.19C530.18 519.92 529.53 522.79 528.75 525.00C527.97 527.21 526.54 529.01 525.62 530.47C524.71 531.93 523.36 532.94 523.28 533.75C523.20 534.56 523.72 535.16 525.16 535.31C526.59 535.47 529.45 534.58 531.88 534.69C534.30 534.79 537.47 534.95 539.69 535.94C541.90 536.93 543.85 538.67 545.16 540.62C546.46 542.58 547.11 545.57 547.50 547.66C547.89 549.74 547.89 551.17 547.50 553.12C547.11 555.08 546.46 557.55 545.16 559.38C543.85 561.20 541.77 562.76 539.69 564.06C537.60 565.36 534.45 566.15 532.66 567.19C530.86 568.23 529.43 568.88 528.91 570.31C528.39 571.74 529.69 573.96 529.53 575.78C529.38 577.60 528.88 579.95 527.97 581.25C527.06 582.55 525.76 583.33 524.06 583.59C522.37 583.85 519.90 583.59 517.81 582.81C515.73 582.03 513.52 580.60 511.56 578.91C509.61 577.21 507.47 574.43 506.09 572.66C504.71 570.89 503.93 569.01 503.28 568.28C502.63 567.55 502.24 567.16 502.19 568.28C502.14 569.40 503.02 572.84 502.97 575.00C502.92 577.16 502.53 579.56 501.88 581.25C501.22 582.94 500.05 584.64 499.06 585.16C498.07 585.68 496.98 585.03 495.94 584.38C494.90 583.72 494.11 582.55 492.81 581.25C491.51 579.95 489.69 577.73 488.12 576.56C486.56 575.39 485.26 574.53 483.44 574.22C481.61 573.91 479.27 574.95 477.19 574.69C475.10 574.43 473.15 573.78 470.94 572.66C468.72 571.54 465.99 569.79 463.91 567.97C461.82 566.15 459.92 563.93 458.44 561.72C456.95 559.51 455.65 556.90 455.00 554.69C454.35 552.47 454.22 550.39 454.53 548.44C454.84 546.48 455.70 544.53 456.88 542.97C458.05 541.41 460.00 539.97 461.56 539.06C463.12 538.15 465.21 538.12 466.25 537.50C467.29 536.88 467.94 536.61 467.81 535.31C467.68 534.01 466.38 531.93 465.47 529.69C464.56 527.45 463.12 524.48 462.34 521.88C461.56 519.27 460.91 516.93 460.78 514.06C460.65 511.20 460.78 507.68 461.56 504.69C462.34 501.69 463.65 498.70 465.47 496.09C467.29 493.49 469.77 490.96 472.50 489.06C475.23 487.16 478.75 485.60 481.88 484.69C485.00 483.78 488.12 483.70 491.25 483.59Z" class="red"/>
<line x1="498.00" y1="554.40" x2="461.50" y2="491.18" class="bs"/>
<line x1="498.00" y1="554.40" x2="524.99" y2="486.57" class="bs"/>
<line x1="498.00" y1="554.40" x2="491.21" y2="481.21" class="db" stroke-width="0.85"/>
<text x="498.00" y="559.00" class="tk">-10</text>
<text x="519.50" y="559.00" class="tk">-5</text>
<text x="540.00" y="559.00" class="tk">0</text>
<text x="561.30" y="559.00" class="tk">5</text>
<text x="499.10" y="475.40" class="al">0</text>
<text x="542.40" y="485.90" class="al">30</text>
<text x="570.90" y="514.80" class="al">60</text>
<text x="581.30" y="556.90" class="al">90</text>
<text x="571.50" y="599.70" class="al a3">120</text>
<text x="543.70" y="627.30" class="al a3">150</text>
<text x="498.00" y="639.70" class="al a3">180</text>
<text x="456.50" y="627.30" class="al a3">150</text>
<text x="426.80" y="599.70" class="al a3">120</text>
<text x="415.50" y="556.90" class="al">90</text>
<text x="426.20" y="514.80" class="al">60</text>
<text x="457.80" y="485.90" class="al">30</text>
</g>
<g>
<line x1="693.60" y1="554.40" x2="730.35" y2="490.75" class="rad"/>
<line x1="693.60" y1="554.40" x2="757.25" y2="517.65" class="rad"/>
<line x1="693.60" y1="554.40" x2="757.25" y2="591.15" class="rad"/>
<line x1="693.60" y1="554.40" x2="730.35" y2="618.05" class="rad"/>
<line x1="693.60" y1="554.40" x2="656.85" y2="618.05" class="rad"/>
<line x1="693.60" y1="554.40" x2="629.95" y2="591.15" class="rad"/>
<line x1="693.60" y1="554.40" x2="629.95" y2="517.65" class="rad"/>
<line x1="693.60" y1="554.40" x2="656.85" y2="490.75" class="rad"/>
<circle cx="693.60" cy="554.40" r="21.00" class="ring"/>
<circle cx="693.60" cy="554.40" r="42.00" class="ring"/>
<circle cx="693.60" cy="554.40" r="63.00" class="ring"/>
<circle cx="693.60" cy="554.40" r="73.50" class="outer"/>
<line x1="620.10" y1="554.40" x2="767.10" y2="554.40" stroke="#eee" stroke-width="0.6"/>
<line x1="693.60" y1="554.40" x2="693.60" y2="627.90" stroke="#999" stroke-width="0.8"/>
<circle cx="693.60" cy="554.40" r="27.40" class="green"/>
<path d="M716.00 567.50C716.59 567.34 718.36 566.94 719.53 566.52C720.70 566.11 721.91 565.58 723.04 565.02C724.17 564.45 725.26 563.82 726.32 563.14C727.37 562.46 728.39 561.72 729.36 560.93C730.33 560.15 731.26 559.30 732.14 558.42C733.03 557.54 733.87 556.61 734.66 555.65C735.45 554.69 736.20 553.68 736.90 552.64C737.59 551.61 738.24 550.54 738.84 549.45C739.43 548.35 739.98 547.23 740.47 546.09C740.96 544.95 741.40 543.78 741.78 542.61C742.16 541.43 742.49 540.24 742.76 539.04C743.02 537.84 743.23 536.62 743.38 535.41C743.53 534.20 743.62 532.98 743.64 531.76C743.67 530.55 743.63 529.34 743.53 528.13C743.43 526.93 743.27 525.73 743.05 524.54C742.83 523.36 742.55 522.18 742.21 521.01C741.88 519.85 741.49 518.69 741.05 517.55C740.61 516.41 740.11 515.29 739.58 514.18C739.04 513.08 738.45 511.99 737.82 510.92C737.19 509.85 736.51 508.80 735.79 507.78C735.08 506.76 734.32 505.75 733.53 504.78C732.74 503.80 731.90 502.85 731.04 501.93C730.18 501.01 729.28 500.12 728.35 499.26C727.43 498.40 726.47 497.57 725.48 496.77C724.50 495.97 723.49 495.21 722.46 494.48C721.42 493.76 720.36 493.07 719.28 492.42C718.21 491.76 717.10 491.15 715.99 490.58C714.87 490.01 713.73 489.47 712.58 488.99C711.44 488.50 710.27 488.05 709.09 487.65C707.92 487.26 706.73 486.90 705.53 486.60C704.34 486.29 703.13 486.03 701.92 485.83C700.71 485.62 699.49 485.47 698.27 485.36C697.06 485.26 695.83 485.21 694.61 485.22C693.39 485.22 692.17 485.28 690.95 485.40C689.74 485.51 688.52 485.68 687.31 485.90C686.11 486.12 684.90 486.39 683.71 486.71C682.52 487.03 681.34 487.40 680.17 487.81C679.00 488.22 677.84 488.68 676.70 489.19C675.56 489.69 674.43 490.23 673.32 490.82C672.21 491.41 671.11 492.04 670.04 492.70C668.97 493.36 667.92 494.07 666.90 494.81C665.87 495.55 664.87 496.32 663.90 497.13C662.92 497.94 661.97 498.78 661.05 499.65C660.14 500.52 659.25 501.42 658.39 502.35C657.54 503.28 656.71 504.24 655.92 505.22C655.14 506.20 654.38 507.21 653.67 508.24C652.96 509.27 652.28 510.32 651.65 511.39C651.02 512.47 650.42 513.56 649.88 514.67C649.33 515.78 648.83 516.91 648.37 518.05C647.92 519.20 647.51 520.36 647.15 521.53C646.80 522.70 646.49 523.88 646.23 525.07C645.98 526.26 645.78 527.47 645.63 528.68C645.49 529.89 645.40 531.11 645.37 532.33C645.34 533.55 645.37 534.77 645.45 535.99C645.54 537.21 645.68 538.43 645.88 539.63C646.08 540.83 646.34 542.03 646.65 543.21C646.97 544.38 647.34 545.55 647.77 546.68C648.20 547.82 648.69 548.94 649.24 550.02C649.79 551.11 650.40 552.17 651.06 553.19C651.73 554.21 652.45 555.20 653.23 556.14C654.02 557.08 654.86 557.99 655.76 558.84C656.66 559.69 657.62 560.50 658.63 561.25C659.65 562.00 660.73 562.70 661.87 563.34C663.00 563.97 664.26 564.58 665.45 565.06C666.64 565.53 668.41 566.01 669.00 566.20L681.30 566.20L681.40 575.50L681.40 575.50C681.58 576.00 681.73 577.67 682.50 578.50C683.27 579.33 684.17 580.03 686.00 580.50C687.83 580.97 691.00 581.30 693.50 581.30C696.00 581.30 699.25 580.97 701.00 580.50C702.75 580.03 703.32 579.42 704.00 578.50C704.68 577.58 704.92 575.58 705.10 575.00L705.20 568.70L706.10 567.80L716.00 567.50Z" class="red"/>
<line x1="693.60" y1="554.40" x2="651.00" y2="495.12" class="bs"/>
<line x1="693.60" y1="554.40" x2="743.01" y2="500.66" class="bs"/>
<line x1="693.60" y1="554.40" x2="694.11" y2="480.90" class="db" stroke-width="0.85"/>
<text x="693.60" y="559.00" class="tk">-10</text>
<text x="714.40" y="559.00" class="tk">-5</text>
<text x="734.90" y="559.00" class="tk">0</text>
<text x="756.10" y="559.00" class="tk">5</text>
<text x="694.70" y="475.40" class="al">0</text>
<text x="738.00" y="485.90" class="al">30</text>
<text x="766.50" y="514.80" class="al">60</text>
<text x="776.90" y="556.90" class="al">90</text>
<text x="767.10" y="599.70" class="al a3">120</text>
<text x="739.30" y="627.30" class="al a3">150</text>
<text x="693.60" y="639.70" class="al a3">180</text>
<text x="652.10" y="627.30" class="al a3">150</text>
<text x="622.40" y="599.70" class="al a3">120</text>
<text x="611.10" y="556.90" class="al">90</text>
<text x="621.80" y="514.80" class="al">60</text>
<text x="653.40" y="485.90" class="al">30</text>
</g>
</svg>
<div class="cap" style="left:69.4px;top:359.5px">HP elevation</div>
<div class="cap" style="left:270.0px;top:359.5px">VP elevation</div>
<div class="cap" style="left:468.0px;top:359.5px">HP azimuth</div>
<div class="cap" style="left:666.8px;top:359.5px">VP azimuth</div>
<div class="cap" style="left:67.5px;top:651.6px">HP elevation</div>
<div class="cap" style="left:268.8px;top:651.6px">VP elevation</div>
<div class="cap" style="left:468.0px;top:651.6px">HP azimuth</div>
<div class="cap" style="left:664.0px;top:651.6px">VP azimuth</div>
</body></html>
